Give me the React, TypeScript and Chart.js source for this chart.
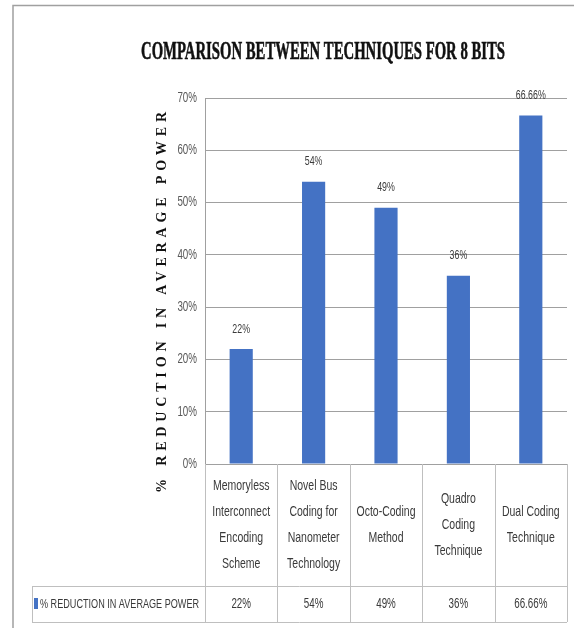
import React, { useEffect, useRef } from "react";
import { Chart, registerables } from "chart.js";

Chart.register(...registerables);

// ---- data ----
const chartTitle = "COMPARISON BETWEEN TECHNIQUES FOR 8 BITS";
const yAxisTitle = "% REDUCTION IN AVERAGE POWER";
const seriesName = "% REDUCTION IN AVERAGE POWER";
const categories: string[][] = [
  ["Memoryless", "Interconnect", "Encoding", "Scheme"],
  ["Novel Bus", "Coding for", "Nanometer", "Technology"],
  ["Octo-Coding", "Method"],
  ["Quadro", "Coding", "Technique"],
  ["Dual Coding", "Technique"],
];
const reductionValues = [22, 54, 49, 36, 66.66];
const valueLabels = ["22%", "54%", "49%", "36%", "66.66%"];
const yMin = 0;
const yMax = 70;
const yStep = 10;

const SANS = "'Liberation Sans', Arial, sans-serif";
const SERIF = "'Liberation Serif', 'DejaVu Serif', serif";
const BAR_COLOR = "#4472C4";
const GRID_COLOR = "#a0a0a0";
const TABLE_COLOR = "#bfbfbf";
const TEXT_COLOR = "#3a3a3a";

function drawNarrow(
  ctx: CanvasRenderingContext2D,
  text: string,
  x: number,
  y: number,
  fontPx: number,
  sx: number,
  align: CanvasTextAlign,
  color: string
) {
  ctx.save();
  ctx.font = `${fontPx}px ${SANS}`;
  ctx.fillStyle = color;
  ctx.textBaseline = "middle";
  ctx.textAlign = align;
  ctx.translate(x, y);
  ctx.scale(sx, 1);
  ctx.fillText(text, 0, 0);
  ctx.restore();
}

const decorPlugin = {
  id: "decor",
  afterDatasetsDraw(chart: any) {
    const ctx = chart.ctx;
    const meta = chart.getDatasetMeta(0);
    meta.data.forEach((bar: any, i: number) => {
      drawNarrow(ctx, valueLabels[i], bar.x, bar.y - 20, 13, 0.68, "center", TEXT_COLOR);
    });
  },
  afterDraw(chart: any) {
    const ctx = chart.ctx as CanvasRenderingContext2D;
    const area = chart.chartArea;
    const xs = chart.scales.x;
    const ys = chart.scales.y;
    const W = chart.width;
    const H = chart.height;

    // outer frame
    ctx.save();
    ctx.strokeStyle = "#a0a0a0";
    ctx.lineWidth = 1.5;
    ctx.beginPath();
    ctx.moveTo(13, H + 2);
    ctx.lineTo(13, 5.5);
    ctx.lineTo(W + 2, 5.5);
    ctx.stroke();
    ctx.restore();

    // title (condensed)
    ctx.save();
    ctx.font = `bold 26px ${SERIF}`;
    ctx.fillStyle = "#111";
    ctx.strokeStyle = "#111";
    ctx.lineWidth = 0.6;
    ctx.textBaseline = "middle";
    ctx.textAlign = "center";
    const tw = ctx.measureText(chartTitle).width;
    ctx.translate(323, 52);
    ctx.scale(364 / tw, 1);
    ctx.fillText(chartTitle, 0, 0);
    ctx.strokeText(chartTitle, 0, 0);
    ctx.restore();

    // y axis title (rotated, letter spaced)
    ctx.save();
    ctx.font = `bold 14px ${SERIF}`;
    ctx.fillStyle = "#111";
    ctx.textBaseline = "middle";
    ctx.textAlign = "left";
    const w0 = ctx.measureText(yAxisTitle).width;
    const total = 381;
    const ls = (total - w0) / (yAxisTitle.length - 1);
    (ctx as any).letterSpacing = `${ls}px`;
    ctx.translate(162, 302.5);
    ctx.rotate(-Math.PI / 2);
    ctx.fillText(yAxisTitle, -total / 2, 0);
    ctx.restore();

    // y tick labels
    ys.ticks.forEach((t: any) => {
      drawNarrow(ctx, `${t.value}%`, area.left - 8, ys.getPixelForValue(t.value), 14, 0.7, "right", "#595959");
    });

    // data table
    const n = categories.length;
    const colW = (area.right - area.left) / n;
    const rowTop = area.bottom;
    const dataTop = 586;
    const dataBot = 622;
    const tableLeft = 32;
    ctx.save();
    ctx.strokeStyle = TABLE_COLOR;
    ctx.lineWidth = 1;
    ctx.beginPath();
    for (let i = 0; i <= n; i++) {
      const bx = Math.round(area.left + i * colW) + 0.5;
      ctx.moveTo(bx, rowTop);
      ctx.lineTo(bx, dataBot);
    }
    ctx.moveTo(tableLeft, dataTop + 0.5);
    ctx.lineTo(area.right, dataTop + 0.5);
    ctx.moveTo(tableLeft, dataBot + 0.5);
    ctx.lineTo(area.right, dataBot + 0.5);
    ctx.moveTo(tableLeft + 0.5, dataTop);
    ctx.lineTo(tableLeft + 0.5, dataBot);
    ctx.stroke();
    ctx.restore();

    // category labels, vertically centred in the label row
    const labelMid = (rowTop + dataTop) / 2;
    const lineH = 26;
    categories.forEach((lines, i) => {
      const cx = xs.getPixelForValue(i);
      const y0 = labelMid - ((lines.length - 1) * lineH) / 2;
      lines.forEach((ln, j) => {
        drawNarrow(ctx, ln, cx, y0 + j * lineH, 15, 0.7, "center", TEXT_COLOR);
      });
    });

    // values row
    const rowMid = (dataTop + dataBot) / 2;
    for (let i = 0; i < n; i++) {
      drawNarrow(ctx, valueLabels[i], xs.getPixelForValue(i), rowMid, 14, 0.7, "center", TEXT_COLOR);
    }
    // legend key + series name
    ctx.save();
    ctx.fillStyle = BAR_COLOR;
    ctx.fillRect(34, rowMid - 6, 4, 11);
    ctx.restore();
    drawNarrow(ctx, seriesName, 40, rowMid, 13, 0.7, "left", TEXT_COLOR);
  },
};

export default function App() {
  const ref = useRef<HTMLCanvasElement>(null);
  useEffect(() => {
    if (!ref.current) return;
    const chart = new Chart(ref.current, {
      type: "bar",
      data: {
        labels: categories.map((c) => c.join(" ")),
        datasets: [
          {
            label: seriesName,
            data: reductionValues,
            backgroundColor: BAR_COLOR,
            borderWidth: 0,
            barPercentage: 0.32,
            categoryPercentage: 1,
          },
        ],
      },
      options: {
        animation: false,
        responsive: false,
        devicePixelRatio: 1,
        layout: { padding: { top: 98, left: 0, right: 7, bottom: 0 } },
        plugins: {
          legend: { display: false },
          tooltip: { enabled: false },
          title: { display: false },
        },
        scales: {
          x: {
            offset: true,
            grid: { display: false, drawTicks: false },
            border: { display: true, color: GRID_COLOR, width: 1 },
            ticks: { display: false },
            afterFit: (scale: any) => {
              scale.height = 164;
              scale.paddingLeft = 0;
              scale.paddingRight = 0;
            },
          },
          y: {
            min: yMin,
            max: yMax,
            grid: { color: GRID_COLOR, lineWidth: 1, drawTicks: false },
            border: { display: true, color: GRID_COLOR, width: 1 },
            ticks: { stepSize: yStep, display: false },
            afterFit: (scale: any) => {
              scale.width = 205;
              scale.paddingTop = 0;
              scale.paddingBottom = 0;
            },
          },
        },
      },
      plugins: [decorPlugin],
    });
    return () => chart.destroy();
  }, []);
  return (
    <div style={{ position: "absolute", left: 0, top: 0, width: 574, height: 628, background: "#fff" }}>
      <canvas ref={ref} width={574} height={628} />
    </div>
  );
}
